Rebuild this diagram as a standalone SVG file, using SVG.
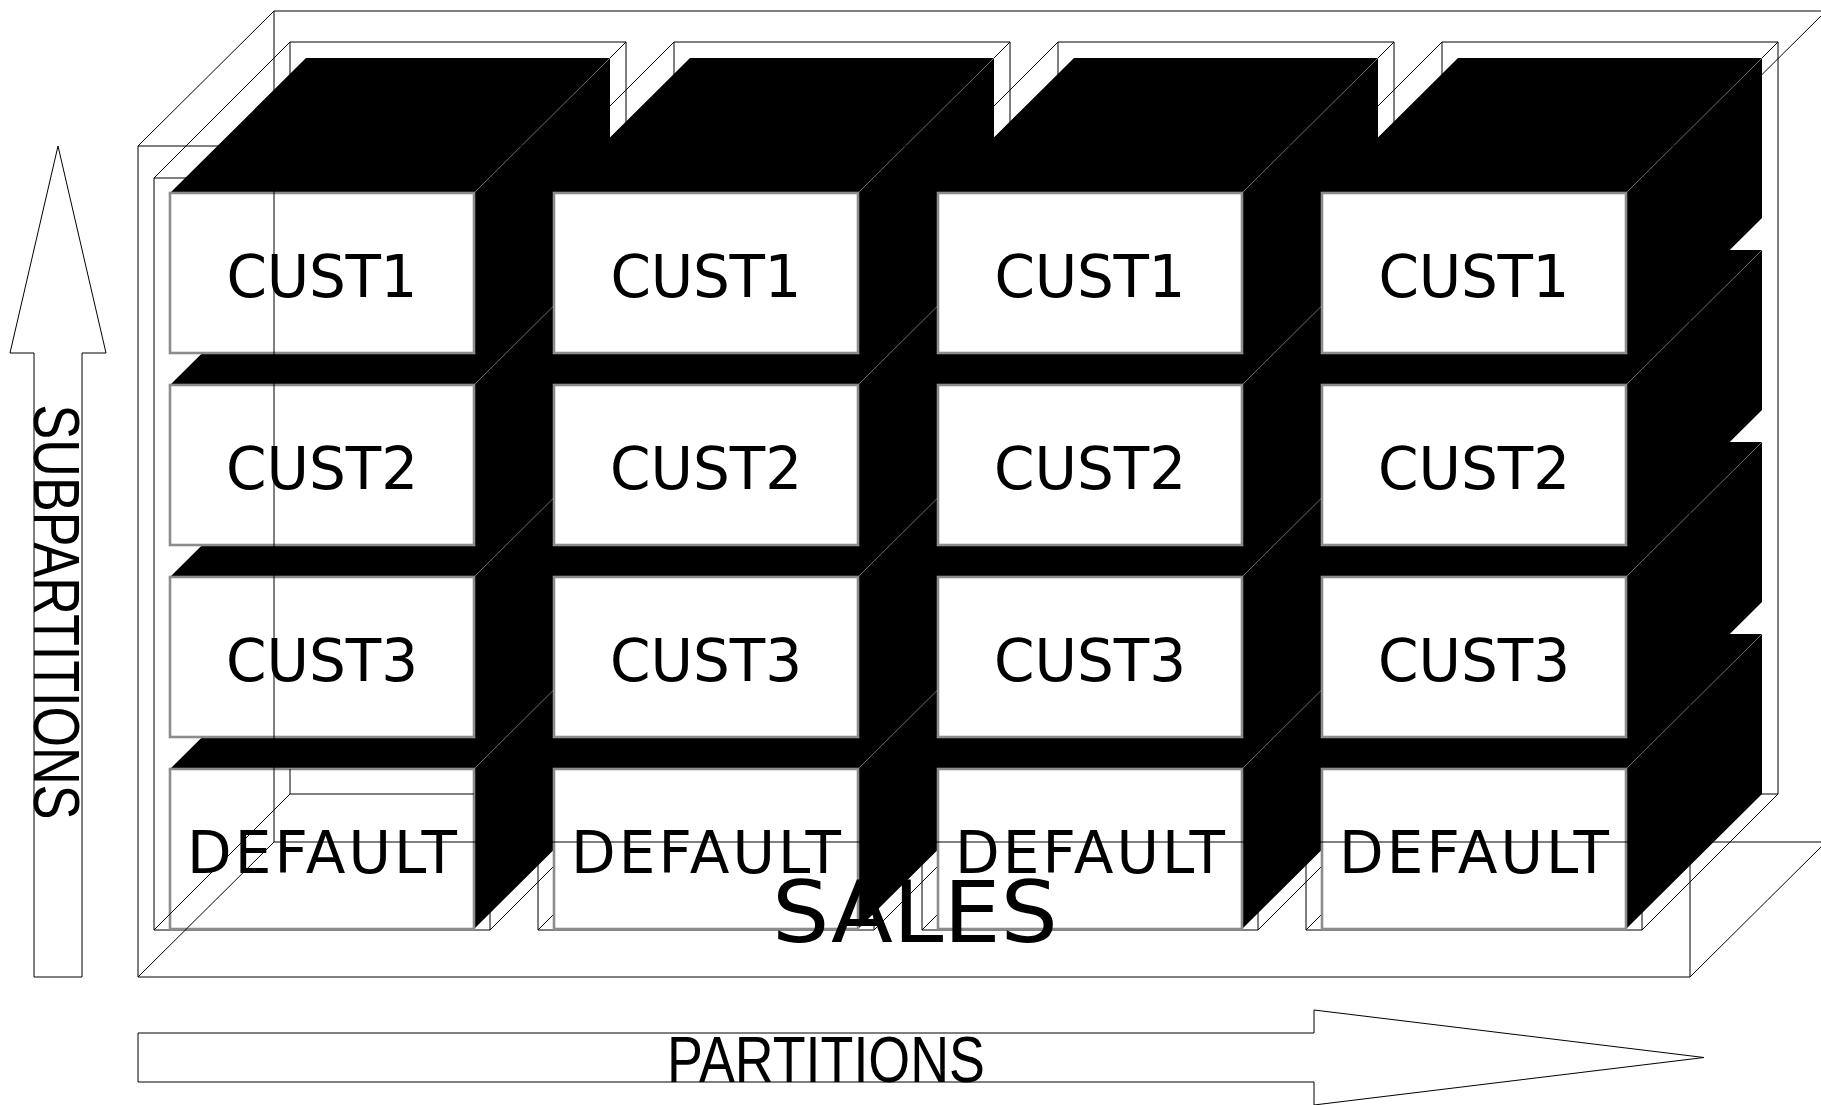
<svg xmlns="http://www.w3.org/2000/svg" xmlns:xlink="http://www.w3.org/1999/xlink" width="1821" height="1105" viewBox="0 0 1821 1105">
  <style>
    .wire { fill: none; stroke: #000; stroke-width: 1; }
    .body { fill: #000; stroke: none; }
    .ridge { fill: none; stroke: #707070; stroke-width: 1; }
    .face { fill: #fff; stroke: #8c8c8c; stroke-width: 2.6; }
    .cell { font-family: "DejaVu Sans", "Liberation Sans", sans-serif; font-size: 58px; text-anchor: middle; fill: #000; }
    .title { font-family: "DejaVu Sans", "Liberation Sans", sans-serif; font-size: 86px; text-anchor: middle; fill: #000; }
    .axis { fill: #fff; stroke: #000; stroke-width: 1; }
    .axislabel { font-family: "Liberation Sans", Arial, sans-serif; font-size: 64px; text-anchor: middle; fill: #000; }
  </style>
  <defs>
    <!-- one partition: open wire box, front face at origin, depth offset (136,-136) -->
    <path id="partbox" class="wire" d="M0,0 H336 V752 H0 Z M136,-136 H472 V616 H136 Z M0,0 L136,-136 M336,0 L472,-136 M0,752 L136,616 M336,752 L472,616"/>
    <!-- one subpartition cube: black top and right side, white front face -->
    <g id="cube">
      <polygon class="body" points="0,0 136,-135 440,-135 440,25 304,160 304,0"/>
      <line class="ridge" x1="304" y1="0" x2="440" y2="-135"/>
      <rect class="face" x="0" y="0" width="304" height="160"/>
    </g>
  </defs>

  <rect width="1821" height="1105" fill="#fff"/>

  <!-- partitions (behind the cubes) -->
  <g id="partitions">
    <use id="partition-1" xlink:href="#partbox" href="#partbox" x="154" y="178"/>
    <use id="partition-2" xlink:href="#partbox" href="#partbox" x="538" y="178"/>
    <use id="partition-3" xlink:href="#partbox" href="#partbox" x="922" y="178"/>
    <use id="partition-4" xlink:href="#partbox" href="#partbox" x="1306" y="178"/>
  </g>

  <!-- subpartition cubes: columns left to right, rows bottom to top -->
  <g id="column-1">
    <g id="p1-default" transform="translate(170,769)"><use xlink:href="#cube" href="#cube"/><text class="cell" x="152" y="104" textLength="270" lengthAdjust="spacing">DEFAULT</text></g>
    <g id="p1-cust3" transform="translate(170,577)"><use xlink:href="#cube" href="#cube"/><text class="cell" x="152" y="104">CUST3</text></g>
    <g id="p1-cust2" transform="translate(170,385)"><use xlink:href="#cube" href="#cube"/><text class="cell" x="152" y="104">CUST2</text></g>
    <g id="p1-cust1" transform="translate(170,193)"><use xlink:href="#cube" href="#cube"/><text class="cell" x="152" y="104" textLength="191" lengthAdjust="spacing">CUST1</text></g>
  </g>
  <g id="column-2">
    <g id="p2-default" transform="translate(554,769)"><use xlink:href="#cube" href="#cube"/><text class="cell" x="152" y="104" textLength="270" lengthAdjust="spacing">DEFAULT</text></g>
    <g id="p2-cust3" transform="translate(554,577)"><use xlink:href="#cube" href="#cube"/><text class="cell" x="152" y="104">CUST3</text></g>
    <g id="p2-cust2" transform="translate(554,385)"><use xlink:href="#cube" href="#cube"/><text class="cell" x="152" y="104">CUST2</text></g>
    <g id="p2-cust1" transform="translate(554,193)"><use xlink:href="#cube" href="#cube"/><text class="cell" x="152" y="104" textLength="191" lengthAdjust="spacing">CUST1</text></g>
  </g>
  <g id="column-3">
    <g id="p3-default" transform="translate(938,769)"><use xlink:href="#cube" href="#cube"/><text class="cell" x="152" y="104" textLength="270" lengthAdjust="spacing">DEFAULT</text></g>
    <g id="p3-cust3" transform="translate(938,577)"><use xlink:href="#cube" href="#cube"/><text class="cell" x="152" y="104">CUST3</text></g>
    <g id="p3-cust2" transform="translate(938,385)"><use xlink:href="#cube" href="#cube"/><text class="cell" x="152" y="104">CUST2</text></g>
    <g id="p3-cust1" transform="translate(938,193)"><use xlink:href="#cube" href="#cube"/><text class="cell" x="152" y="104" textLength="191" lengthAdjust="spacing">CUST1</text></g>
  </g>
  <g id="column-4">
    <g id="p4-default" transform="translate(1322,769)"><use xlink:href="#cube" href="#cube"/><text class="cell" x="152" y="104" textLength="270" lengthAdjust="spacing">DEFAULT</text></g>
    <g id="p4-cust3" transform="translate(1322,577)"><use xlink:href="#cube" href="#cube"/><text class="cell" x="152" y="104">CUST3</text></g>
    <g id="p4-cust2" transform="translate(1322,385)"><use xlink:href="#cube" href="#cube"/><text class="cell" x="152" y="104">CUST2</text></g>
    <g id="p4-cust1" transform="translate(1322,193)"><use xlink:href="#cube" href="#cube"/><text class="cell" x="152" y="104" textLength="191" lengthAdjust="spacing">CUST1</text></g>
  </g>

  <!-- back edges of the first partition seen through its DEFAULT face -->
  <path id="partition-1-back" class="wire" d="M290,769 V794 H474 M154,930 L290,794"/>

  <!-- SALES table: wire box drawn over the cubes -->
  <g id="sales-table">
    <path class="wire" d="M138,146 H1690 V977 H138 Z M274,11 H1826 V842 H274 Z M138,146 L274,11 M1690,146 L1826,11 M1690,977 L1826,842 M138,977 L274,842"/>
    <text class="title" x="915" y="942" textLength="286" lengthAdjust="spacingAndGlyphs">SALES</text>
  </g>

  <!-- axis arrows -->
  <g id="connectors">
    <g id="subpartitions-axis">
      <polygon class="axis" points="58,146 106,353 82,353 82,977 34,977 34,353 10,353"/>
      <text class="axislabel" transform="translate(34,612) rotate(90)" x="0" y="0" textLength="415" lengthAdjust="spacingAndGlyphs">SUBPARTITIONS</text>
    </g>
    <g id="partitions-axis">
      <polygon class="axis" points="138,1033 1314,1033 1314,1010 1704,1057.5 1314,1105 1314,1082 138,1082"/>
      <text class="axislabel" x="826" y="1082" textLength="318" lengthAdjust="spacingAndGlyphs">PARTITIONS</text>
    </g>
  </g>
</svg>
